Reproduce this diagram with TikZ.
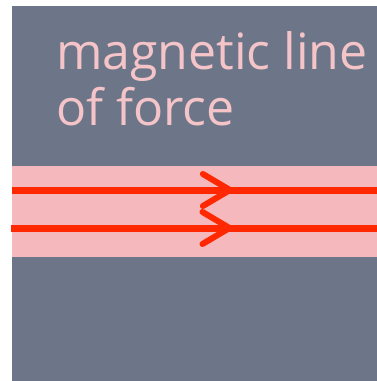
\documentclass[tikz,border=0pt]{standalone}
\usepackage{fontspec}
\setmainfont{Open Sans}
\usetikzlibrary{decorations.markings}
\definecolor{slate}{RGB}{108,118,136}
\definecolor{bandpink}{RGB}{244,184,189}
\definecolor{fieldred}{RGB}{255,40,0}
\definecolor{textpink}{RGB}{245,196,200}

\begin{document}
\begin{tikzpicture}[x=1pt, y=-1pt,
  field/.style={draw=fieldred, line width=7pt, postaction={decorate},
    decoration={markings, mark=at position 0.597 with {
      \draw[draw=fieldred, line width=6pt, line cap=round, line join=round]
        (-27,-16) -- (0,0) -- (-27,16);}}},
  caption/.style={text=textpink, font=\fontsize{50}{56}\selectfont,
    align=left, inner sep=0pt, anchor=base west}
]
\useasboundingbox (0,0) rectangle (377,381);
% background and band
\fill[slate] (12,6) rectangle (377,381);
\fill[bandpink] (12,166) rectangle (377,257);

\node[caption] (title) at (56,125) {magnetic line\\of force};

% field lines
\coordinate (in1) at (12,190);
\coordinate (out1) at (377,190);
\coordinate (in2) at (11,228);
\coordinate (out2) at (377,228);
\draw[field] (in1) -- (out1);
\draw[field] (in2) -- (out2);
\end{tikzpicture}
\end{document}
